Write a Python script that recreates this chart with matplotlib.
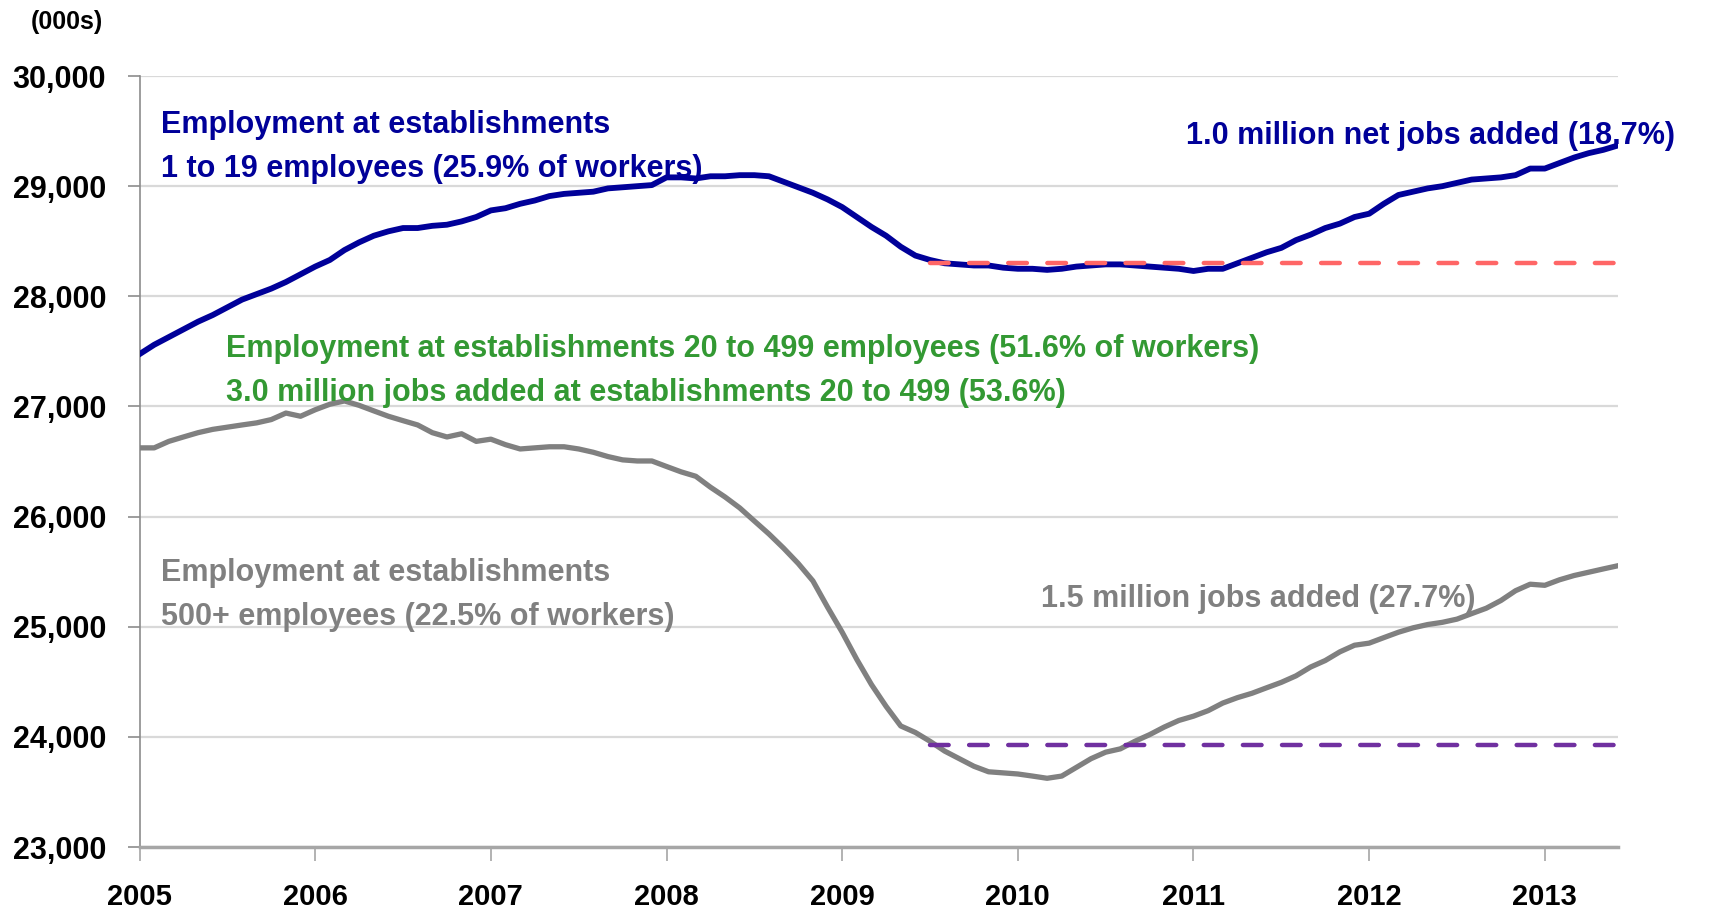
import numpy as np
import matplotlib.pyplot as plt

plt.rcParams['font.family'] = ['Liberation Sans', 'DejaVu Sans']

years = ["2005", "2006", "2007", "2008", "2009", "2010", "2011", "2012", "2013"]

# monthly employment (000s), Jan 2005 - Jun 2013
small_estab = [
    27475, 27560, 27630, 27700, 27770, 27830, 27900, 27970, 28020, 28070, 28130, 28200,
    28270, 28330, 28420, 28490, 28550, 28590, 28620, 28620, 28640, 28650, 28680, 28720,
    28780, 28800, 28840, 28870, 28910, 28930, 28940, 28950, 28980, 28990, 29000, 29010,
    29080, 29080, 29070, 29090, 29090, 29100, 29100, 29090, 29040, 28990, 28940, 28880,
    28810, 28720, 28630, 28550, 28450, 28370, 28330, 28300, 28290, 28280, 28280, 28260,
    28250, 28250, 28240, 28250, 28270, 28280, 28290, 28290, 28280, 28270, 28260, 28250,
    28230, 28250, 28250, 28300, 28350, 28400, 28440, 28510, 28560, 28620, 28660, 28720,
    28750, 28840, 28920, 28950, 28980, 29000, 29030, 29060, 29070, 29080, 29100, 29160,
    29160, 29210, 29260, 29300, 29330, 29370,
]
large_estab = [
    26624, 26624, 26683, 26723, 26762, 26792, 26812, 26832, 26851, 26881, 26940, 26911,
    26970, 27020, 27050, 27010, 26960, 26911, 26871, 26832, 26762, 26723, 26752, 26683,
    26703, 26653, 26614, 26624, 26634, 26634, 26614, 26584, 26545, 26515, 26505, 26505,
    26455, 26406, 26366, 26267, 26178, 26079, 25960, 25842, 25713, 25574, 25416, 25178,
    24950, 24703, 24475, 24277, 24099, 24040, 23960, 23871, 23802, 23733, 23683, 23673,
    23663, 23644, 23624, 23644, 23723, 23802, 23861, 23891, 23960, 24020, 24089, 24149,
    24188, 24238, 24307, 24356, 24396, 24446, 24495, 24554, 24634, 24693, 24772, 24832,
    24851, 24901, 24950, 24990, 25020, 25040, 25069, 25119, 25168, 25238, 25327, 25386,
    25376, 25426, 25465, 25495, 25525, 25554,
]

start_month = 54          # Jul 2009, end of recession
small_base = 28300
large_base = 23930

blue = "#000099"
grey = "#808080"
green = "#339933"
red = "#FF6666"
purple = "#7030A0"

months = np.arange(len(small_estab))

fig = plt.figure(figsize=(17.1, 9.14), dpi=100)
ax = fig.add_axes([0.0816, 0.0733, 0.8646, 0.8435])

ax.plot(months, small_estab, color=blue, linewidth=4.2, solid_joinstyle='round', zorder=3)
ax.plot(months, large_estab, color=grey, linewidth=3.8, solid_joinstyle='round', zorder=3)

# flat reference lines from the recession's end
base_x = months[start_month:]
ax.plot(base_x, np.full(len(base_x), small_base), color=red, linewidth=3.2,
        dashes=(4.2, 4.6), dash_capstyle='round', zorder=4)
ax.plot(base_x, np.full(len(base_x), large_base), color=purple, linewidth=3.2,
        dashes=(4.2, 4.6), dash_capstyle='round', zorder=4)

ax.set_xlim(0, len(months) - 1)
ax.set_ylim(23000, 30000)

ax.set_yticks(np.arange(23000, 30001, 1000))
ax.set_yticklabels(["{:,}".format(v) for v in range(23000, 30001, 1000)])
ax.set_xticks(np.arange(0, len(months), 12))
ax.set_xticklabels(years)

ax.grid(axis='y', color='#D9D9D9', linewidth=1.6, zorder=0)
ax.set_axisbelow(True)

ax.spines['top'].set_visible(False)
ax.spines['right'].set_visible(False)
ax.spines['left'].set_color('#8C8C8C')
ax.spines['left'].set_linewidth(1.2)
ax.spines['bottom'].set_color('#A6A6A6')
ax.spines['bottom'].set_linewidth(2.5)

ax.tick_params(axis='y', direction='out', length=9, width=1.2, color='#8C8C8C',
               pad=15, labelsize=22)
ax.tick_params(axis='x', direction='out', length=10, width=1.2, color='#A6A6A6',
               pad=16, labelsize=21)
for lab in ax.get_xticklabels() + ax.get_yticklabels():
    lab.set_fontweight('bold')

fig.text(67 / 1710, 1 - 29 / 914, "(000s)", ha='center', va='baseline',
         fontsize=18, fontweight='bold')

txt = dict(fontsize=22, fontweight='bold', va='baseline', ha='left')
ax.text(1.5, 29485, "Employment at establishments", color=blue, **txt)
ax.text(1.5, 29079, "1 to 19 employees (25.9% of workers)", color=blue, **txt)
ax.text(71.5, 29386, "1.0 million net jobs added (18.7%)", color=blue, clip_on=False, **txt)

ax.text(5.9, 27446, "Employment at establishments 20 to 499 employees (51.6% of workers)",
        color=green, **txt)
ax.text(5.9, 27050, "3.0 million jobs added at establishments 20 to 499 (53.6%)",
        color=green, **txt)

ax.text(1.5, 25416, "Employment at establishments", color=grey, **txt)
ax.text(1.5, 25020, "500+ employees (22.5% of workers)", color=grey, **txt)
ax.text(61.6, 25178, "1.5 million jobs added (27.7%)", color=grey, **txt)

fig.savefig("out.png", dpi=100)
